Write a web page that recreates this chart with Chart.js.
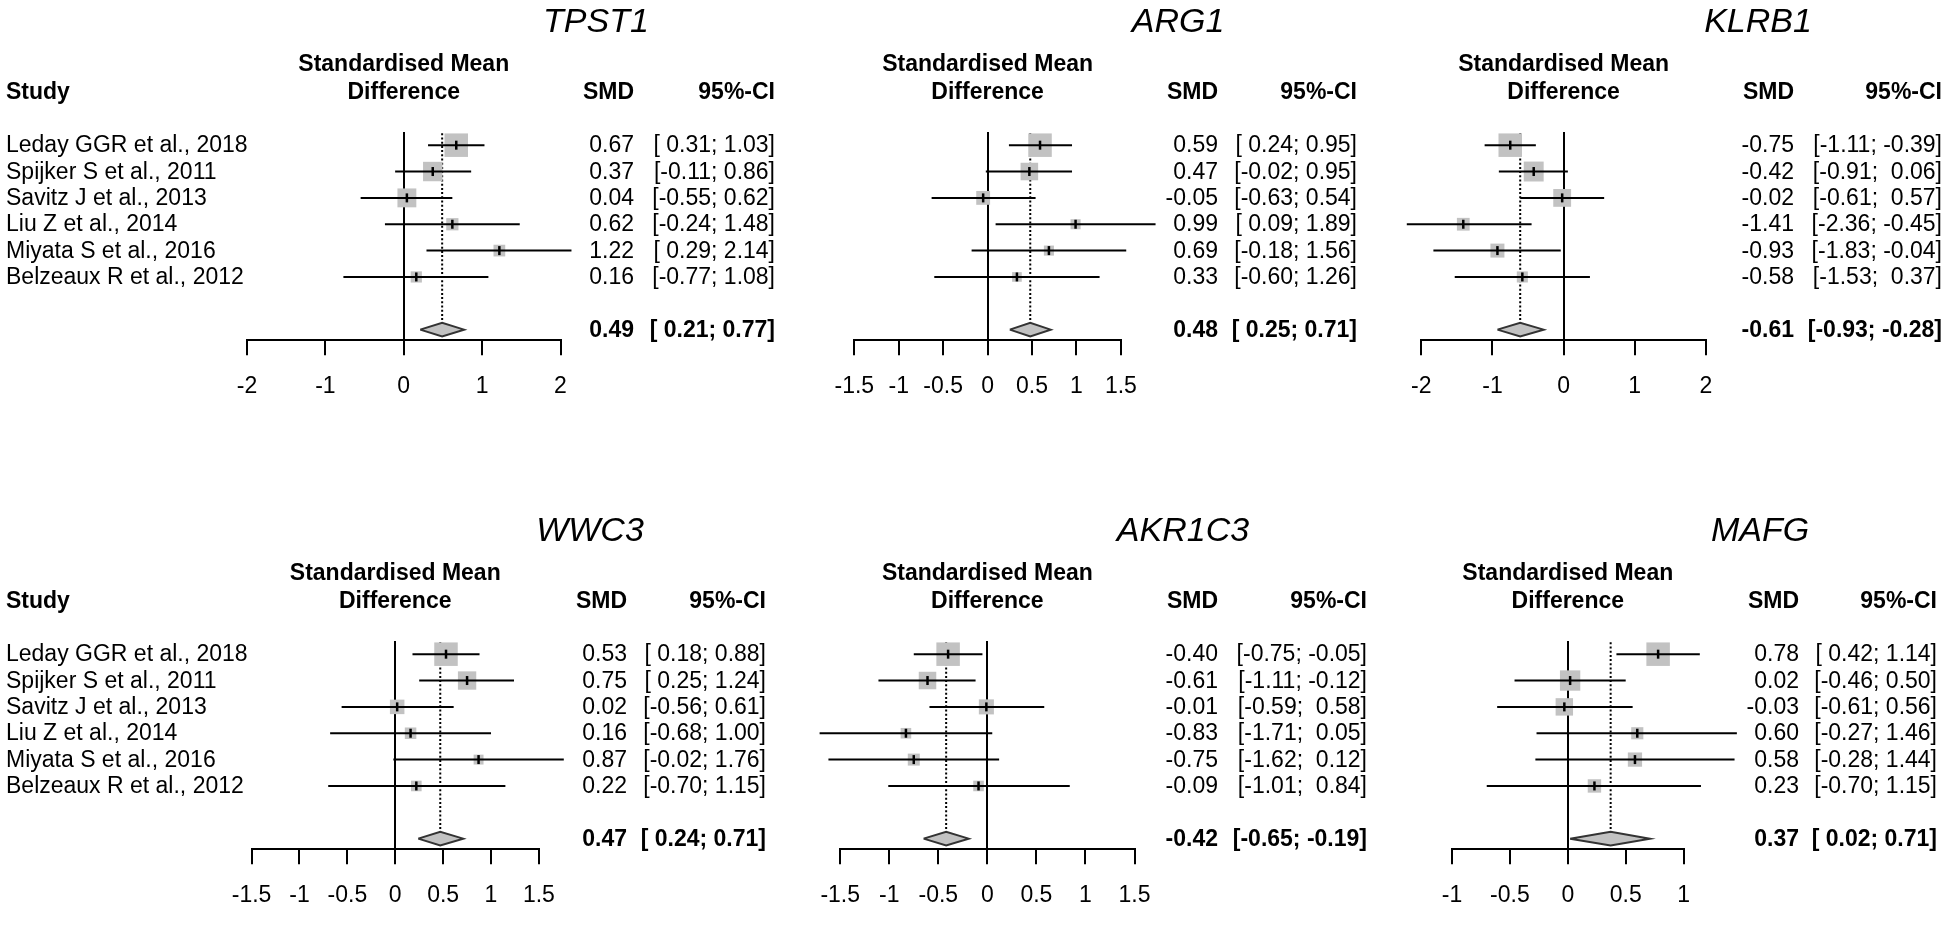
<!DOCTYPE html>
<html>
<head>
<meta charset="utf-8">
<title>Forest plots</title>
<script src="https://cdn.jsdelivr.net/npm/chart.js@4.4.1/dist/chart.umd.min.js"></script>
<style>
  html, body { margin: 0; padding: 0; background: #fff; }
  #wrap { position: relative; width: 1950px; height: 931px; overflow: hidden; background: #fff; }
  #wrap canvas { position: absolute; left: 0; }
</style>
</head>
<body>
<div id="wrap"></div>
<script>
// ============= data =====================
const studies = [
  'Leday GGR et al., 2018',
  'Spijker S et al., 2011',
  'Savitz J et al., 2013',
  'Liu Z et al., 2014',
  'Miyata S et al., 2016',
  'Belzeaux R et al., 2012'
];
const genes = ['TPST1', 'ARG1', 'KLRB1', 'WWC3', 'AKR1C3', 'MAFG'];

// SMD, lower / upper 95% CI, weight (%) per study; pooled = [SMD, lower, upper]
const smdTPST1 = [0.67, 0.37, 0.04, 0.62, 1.22, 0.16];
const loTPST1 = [0.31, -0.11, -0.55, -0.24, 0.29, -0.77];
const hiTPST1 = [1.03, 0.86, 0.62, 1.48, 2.14, 1.08];
const wTPST1 = [32.5, 22.2, 21.0, 8.8, 8.1, 7.4];
const poolTPST1 = [0.49, 0.21, 0.77];
const ticksTPST1 = [-2, -1, 0, 1, 2];

const smdARG1 = [0.59, 0.47, -0.05, 0.99, 0.69, 0.33];
const loARG1 = [0.24, -0.02, -0.63, 0.09, -0.18, -0.60];
const hiARG1 = [0.95, 0.95, 0.54, 1.89, 1.56, 1.26];
const wARG1 = [40.9, 22.8, 14.2, 7.5, 7.5, 6.9];
const poolARG1 = [0.48, 0.25, 0.71];
const ticksARG1 = [-1.5, -1, -0.5, 0, 0.5, 1, 1.5];

const smdKLRB1 = [-0.75, -0.42, -0.02, -1.41, -0.93, -0.58];
const loKLRB1 = [-1.11, -0.91, -0.61, -2.36, -1.83, -1.53];
const hiKLRB1 = [-0.39, 0.06, 0.57, -0.45, -0.04, 0.37];
const wKLRB1 = [31.6, 22.7, 18.2, 9.3, 11.2, 7.0];
const poolKLRB1 = [-0.61, -0.93, -0.28];
const ticksKLRB1 = [-2, -1, 0, 1, 2];

const smdWWC3 = [0.53, 0.75, 0.02, 0.16, 0.87, 0.22];
const loWWC3 = [0.18, 0.25, -0.56, -0.68, -0.02, -0.70];
const hiWWC3 = [0.88, 1.24, 0.61, 1.00, 1.76, 1.15];
const wWWC3 = [38.3, 23.3, 14.6, 9.2, 6.8, 7.8];
const poolWWC3 = [0.47, 0.24, 0.71];
const ticksWWC3 = [-1.5, -1, -0.5, 0, 0.5, 1, 1.5];

const smdAKR1C3 = [-0.40, -0.61, -0.01, -0.83, -0.75, -0.09];
const loAKR1C3 = [-0.75, -1.11, -0.59, -1.71, -1.62, -1.01];
const hiAKR1C3 = [-0.05, -0.12, 0.58, 0.05, 0.12, 0.84];
const wAKR1C3 = [38.0, 21.1, 15.6, 7.7, 9.9, 7.7];
const poolAKR1C3 = [-0.42, -0.65, -0.19];
const ticksAKR1C3 = [-1.5, -1, -0.5, 0, 0.5, 1, 1.5];

const smdMAFG = [0.78, 0.02, -0.03, 0.60, 0.58, 0.23];
const loMAFG = [0.42, -0.46, -0.61, -0.27, -0.28, -0.70];
const hiMAFG = [1.14, 0.50, 0.56, 1.46, 1.44, 1.15];
const wMAFG = [30.7, 23.0, 16.9, 8.2, 11.3, 10.0];
const poolMAFG = [0.37, 0.02, 0.71];
const ticksMAFG = [-1, -0.5, 0, 0.5, 1];

const series = {
  TPST1: [smdTPST1, loTPST1, hiTPST1, wTPST1, poolTPST1, ticksTPST1],
  ARG1: [smdARG1, loARG1, hiARG1, wARG1, poolARG1, ticksARG1],
  KLRB1: [smdKLRB1, loKLRB1, hiKLRB1, wKLRB1, poolKLRB1, ticksKLRB1],
  WWC3: [smdWWC3, loWWC3, hiWWC3, wWWC3, poolWWC3, ticksWWC3],
  AKR1C3: [smdAKR1C3, loAKR1C3, hiAKR1C3, wAKR1C3, poolAKR1C3, ticksAKR1C3],
  MAFG: [smdMAFG, loMAFG, hiMAFG, wMAFG, poolMAFG, ticksMAFG]
};
// ============= end of data =====================

// ============= page layout (pixels) =====================
const CANVAS_H = 422;
// clipL: how far (px) CI lines may run left of the axis before being cut
const place = {
  TPST1:  { top: 0,   x0: 247,    x1: 560.5,  titleX: 596,  smdX: 634,  ciX: 775,  study: true,  clipL: false },
  ARG1:   { top: 0,   x0: 854.3,  x1: 1120.9, titleX: 1178, smdX: 1218, ciX: 1357, study: false, clipL: false },
  KLRB1:  { top: 0,   x0: 1421.3, x1: 1705.9, titleX: 1758, smdX: 1794, ciX: 1942, study: false, clipL: 14.5 },
  WWC3:   { top: 509, x0: 251.6,  x1: 538.9,  titleX: 590,  smdX: 627,  ciX: 766,  study: true,  clipL: false },
  AKR1C3: { top: 509, x0: 840.2,  x1: 1134.5, titleX: 1183, smdX: 1218, ciX: 1367, study: false, clipL: false },
  MAFG:   { top: 509, x0: 1452,   x1: 1683.6, titleX: 1760, smdX: 1799, ciX: 1937, study: false, clipL: false }
};
const FONT = '"Liberation Sans", Arial, sans-serif';
const BOX_GREY = '#c2c2c2';
const MAX_BOX = 23.5;      // side of the biggest study box
const DIAMOND_H = 0.26;    // half height of pooled diamond, in row units

Chart.defaults.font.family = FONT;
Chart.defaults.color = '#000';

function fmt(v) { return v.toFixed(2); }
function padLeft(s, n) { while (s.length < n) s = ' ' + s; return s; }
function ciText(lo, hi, pool) {
  const los = lo.concat([pool[1]]).map(fmt);
  const his = hi.concat([pool[2]]).map(fmt);
  const nl = Math.max(...los.map(s => s.length));
  const nh = Math.max(...his.map(s => s.length));
  return los.map((l, i) => '[' + padLeft(l, nl) + '; ' + padLeft(his[i], nh) + ']');
}

// text columns + headers drawn on top of each forest
const forestText = {
  id: 'forestText',
  afterDraw(chart, args, o) {
    const ctx = chart.ctx;
    const y = chart.scales.y;
    const area = chart.chartArea;
    const [smd, lo, hi, w, pool] = series[o.gene];
    const cis = ciText(lo, hi, pool);
    const base = v => y.getPixelForValue(v) + 7.2;
    ctx.save();
    ctx.fillStyle = '#000';
    ctx.textBaseline = 'alphabetic';
    // gene title
    ctx.font = 'italic 34px ' + FONT;
    ctx.textAlign = 'center';
    ctx.fillText(o.gene, o.titleX, 32);
    // headers
    ctx.font = 'bold 23px ' + FONT;
    const mid = (area.left + area.right) / 2;
    ctx.fillText('Standardised Mean', mid, 70.5);
    ctx.fillText('Difference', mid, 99);
    ctx.textAlign = 'right';
    ctx.fillText('SMD', o.smdX, 99);
    ctx.fillText('95%-CI', o.ciX, 99);
    if (o.study) {
      ctx.textAlign = 'left';
      ctx.fillText('Study', 6, 99);
    }
    // study rows
    ctx.font = '23px ' + FONT;
    smd.forEach((v, i) => {
      if (o.study) {
        ctx.textAlign = 'left';
        ctx.fillText(studies[i], 6, base(i));
      }
      ctx.textAlign = 'right';
      ctx.fillText(fmt(v), o.smdX, base(i));
      ctx.fillText(cis[i], o.ciX, base(i));
    });
    // pooled row
    const py = smd.length + 1;
    ctx.font = 'bold 23px ' + FONT;
    ctx.fillText(fmt(pool[0]), o.smdX, base(py));
    ctx.fillText(cis[cis.length - 1], o.ciX, base(py));
    ctx.restore();
  }
};

function makeChart(gene) {
  const [smd, lo, hi, w, pool, ticks] = series[gene];
  const p = place[gene];
  const maxW = Math.max(...w);
  const py = smd.length + 1;

  const canvas = document.createElement('canvas');
  canvas.width = 1950;
  canvas.height = CANVAS_H;
  canvas.style.top = p.top + 'px';
  document.getElementById('wrap').appendChild(canvas);

  const datasets = [];
  // dotted line at pooled estimate
  datasets.push({
    data: [{ x: pool[0], y: -0.45 }, { x: pool[0], y: py - DIAMOND_H }],
    showLine: true, borderColor: '#000', borderWidth: 2, borderDash: [2, 2.2],
    pointRadius: 0, order: 5, clip: false
  });
  // grey study boxes, area ~ weight
  datasets.push({
    data: smd.map((v, i) => ({ x: v, y: i })),
    pointStyle: 'rect',
    pointRadius: w.map(v => MAX_BOX * Math.sqrt(v / maxW) / (2 * Math.SQRT1_2)),
    backgroundColor: BOX_GREY, borderWidth: 0, order: 4, clip: false
  });
  // confidence intervals
  smd.forEach((v, i) => {
    datasets.push({
      data: [{ x: lo[i], y: i }, { x: hi[i], y: i }],
      showLine: true, borderColor: '#000', borderWidth: 2,
      pointRadius: 0, order: 2,
      clip: { left: p.clipL, right: false, top: false, bottom: false }
    });
  });
  // point estimate tick
  datasets.push({
    data: smd.map((v, i) => ({ x: v, y: i })),
    pointStyle: 'line', rotation: 90, pointRadius: 4.5,
    borderColor: '#000', borderWidth: 2.5, order: 1, clip: false
  });
  // pooled diamond
  datasets.push({
    data: [
      { x: pool[1], y: py }, { x: pool[0], y: py - DIAMOND_H },
      { x: pool[2], y: py }, { x: pool[0], y: py + DIAMOND_H },
      { x: pool[1], y: py }
    ],
    showLine: true, fill: 'shape', backgroundColor: BOX_GREY,
    borderColor: '#333', borderWidth: 2, pointRadius: 0, order: 3, clip: false
  });

  return new Chart(canvas, {
    type: 'scatter',
    data: { datasets },
    options: {
      responsive: false,
      animation: false,
      events: [],
      layout: { padding: { left: p.x0, right: 1950 - p.x1, top: 132, bottom: 3.2 } },
      scales: {
        x: {
          type: 'linear',
          min: ticks[0],
          max: ticks[ticks.length - 1],
          afterBuildTicks: axis => { axis.ticks = ticks.map(v => ({ value: v })); },
          ticks: {
            font: { size: 23, family: FONT },
            color: '#000',
            padding: 18,
            maxRotation: 0,
            autoSkip: false,
            callback: v => String(v)
          },
          grid: {
            drawOnChartArea: true,
            color: c => (c.tick && c.tick.value === 0 ? '#000' : 'rgba(0,0,0,0)'),
            lineWidth: 2,
            tickColor: '#000',
            tickWidth: 2,
            tickLength: 15
          },
          border: { display: true, color: '#000', width: 2 }
        },
        y: {
          type: 'linear',
          display: false,
          reverse: true,
          min: -0.5,
          max: 7.4
        }
      },
      plugins: {
        legend: { display: false },
        tooltip: { enabled: false },
        forestText: { gene: gene, titleX: p.titleX, smdX: p.smdX, ciX: p.ciX, study: p.study }
      }
    },
    plugins: [forestText]
  });
}

genes.forEach(makeChart);
</script>
</body>
</html>
